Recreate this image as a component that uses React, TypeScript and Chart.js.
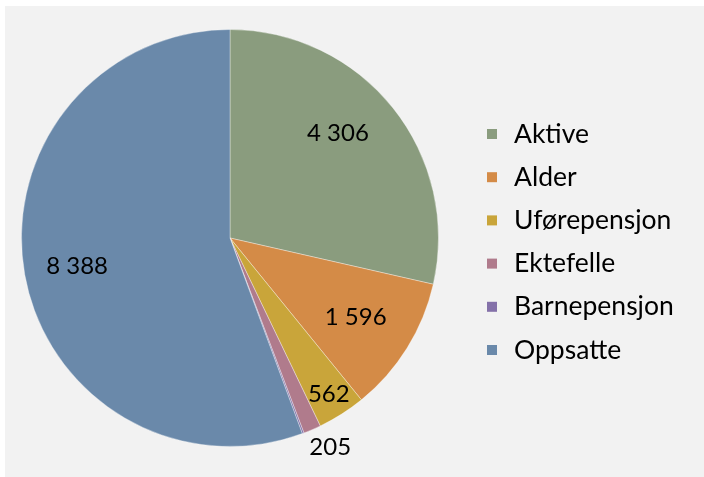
import React, { useEffect, useRef } from "react";
import { Chart, registerables } from "chart.js";

Chart.register(...registerables);

const categories = ["Aktive", "Alder", "Uførepensjon", "Ektefelle", "Barnepensjon", "Oppsatte"];
const values = [4306, 1596, 562, 205, 20, 8388];
const valueLabels = ["4 306", "1 596", "562", "205", "", "8 388"];
const colors = ["#8A9C7E", "#D48B47", "#C9A53A", "#B07B8C", "#8471A9", "#6A89AA"];
// placement of each value label: radial fraction of the pie radius, and fraction across the slice's angle
const labelRadius = [0.725, 0.71, 0.885, 1.11, 0, 0.745];
const labelAngle = [0.443, 0.5, 0.5, 0.0, 0.5, 0.5];

const FONT = "Lato, 'Open Sans', sans-serif";

const labelsPlugin = {
  id: "sliceLabels",
  afterDatasetsDraw(chart: any) {
    const { ctx } = chart;
    const meta = chart.getDatasetMeta(0);
    ctx.save();
    ctx.font = `24px ${FONT}`;
    ctx.fillStyle = "#000";
    ctx.textAlign = "center";
    ctx.textBaseline = "alphabetic";
    meta.data.forEach((arc: any, i: number) => {
      const text = valueLabels[i];
      if (!text) return;
      const { x, y, startAngle, endAngle, outerRadius } = arc.getProps(
        ["x", "y", "startAngle", "endAngle", "outerRadius"],
        true
      );
      const a = startAngle + (endAngle - startAngle) * labelAngle[i];
      const r = outerRadius * labelRadius[i];
      const cx = x + Math.cos(a) * r;
      const cy = y + Math.sin(a) * r;
      ctx.fillText(text, cx, cy + 8.5);
    });
    ctx.restore();
  },
};

const legendPlugin = {
  id: "sideLegend",
  afterDraw(chart: any) {
    const { ctx, chartArea } = chart;
    const x0 = chartArea.right + 48;
    const step = 43.2;
    const cyMid = (chartArea.top + chartArea.bottom) / 2 + 4;
    const y0 = cyMid - step * (categories.length - 1) / 2;
    ctx.save();
    ctx.font = `26.5px ${FONT}`;
    ctx.textAlign = "left";
    ctx.textBaseline = "alphabetic";
    categories.forEach((c, i) => {
      const cy = y0 + i * step;
      ctx.fillStyle = colors[i];
      ctx.fillRect(x0, cy - 5, 10, 10);
      ctx.fillStyle = "#000";
      ctx.fillText(c, x0 + 27, cy + 8.5);
    });
    ctx.restore();
  },
};

export default function App() {
  const ref = useRef<HTMLCanvasElement>(null);
  useEffect(() => {
    if (!ref.current) return;
    const chart = new Chart(ref.current, {
      type: "pie",
      data: {
        labels: categories,
        datasets: [
          {
            data: values,
            backgroundColor: colors,
            borderColor: "rgba(255,255,255,0.35)",
            borderWidth: 1,
          },
        ],
      },
      options: {
        animation: false,
        responsive: false,
        maintainAspectRatio: false,
        layout: { padding: { top: 29, bottom: 30, left: 21, right: 265 } },
        plugins: {
          legend: { display: false },
          tooltip: { enabled: false },
        },
      },
      plugins: [labelsPlugin, legendPlugin],
    });
    return () => chart.destroy();
  }, []);

  return (
    <div style={{ position: "absolute", left: 0, top: 0, width: 704, height: 477, background: "#fff" }}>
      <div style={{ position: "absolute", left: 5, top: 6, right: 0, bottom: 0, background: "#f2f2f2" }} />
      <canvas
        ref={ref}
        width={704}
        height={477}
        style={{ position: "absolute", left: 0, top: 0, width: 704, height: 477 }}
      />
    </div>
  );
}
